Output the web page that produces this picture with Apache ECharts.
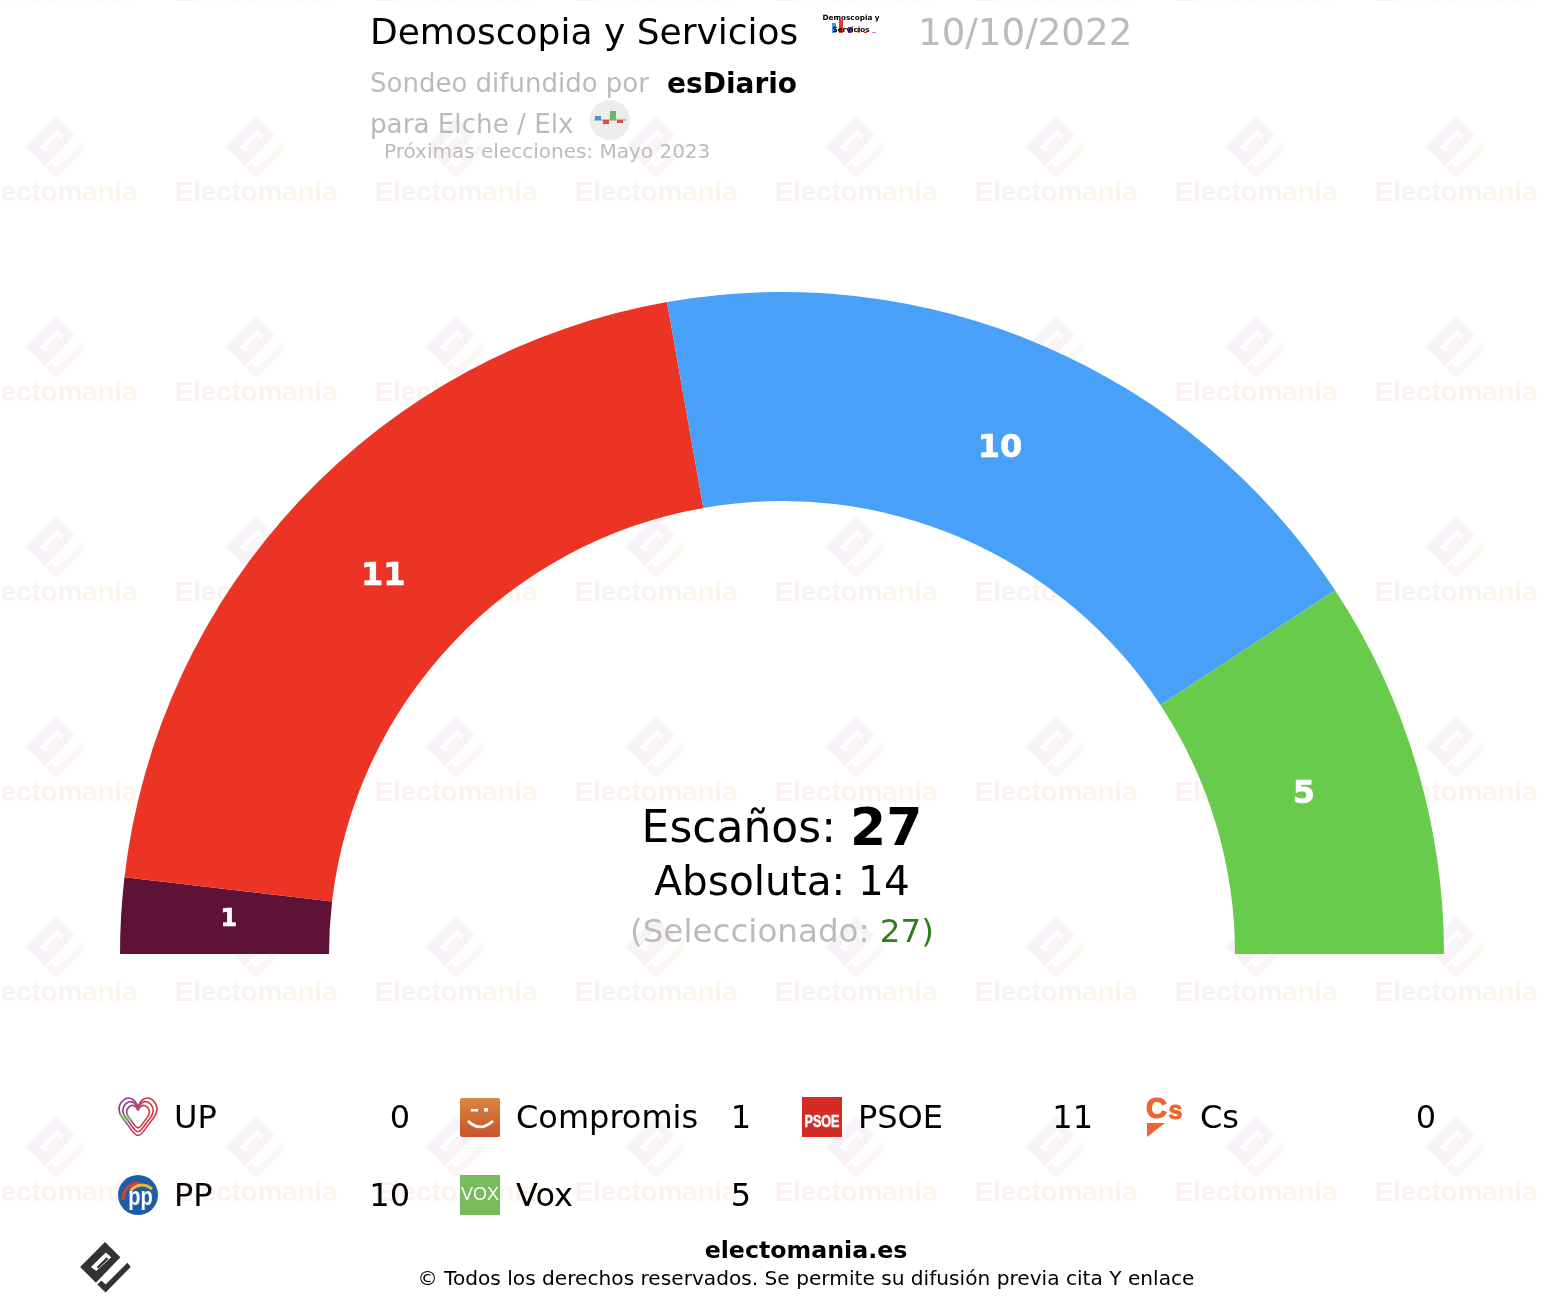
<!DOCTYPE html>
<html>
<head>
<meta charset="utf-8">
<title>Demoscopia y Servicios</title>
<script src="https://cdn.jsdelivr.net/npm/echarts@6/dist/echarts.min.js"></script>
<style>html,body{margin:0;padding:0;background:#fff}#chart{width:1558px;height:1306px}</style>
</head>
<body>
<div id="chart"></div>
<script>
// ---- data ----
const parties = ['UP', 'Compromis', 'PSOE', 'Cs', 'PP', 'Vox'];
const seats = [0, 1, 11, 0, 10, 5];
const partyColors = ['#7b3f98', '#5d1236', '#ec3425', '#ee6430', '#48a0f9', '#68cb4c'];
const totalSeats = 27;
const majority = 14;
const selected = 27;
const pollster = 'Demoscopia y Servicios';
const pollDate = '10/10/2022';
const media = 'esDiario';
const place = 'para Elche / Elx';
const nextElection = 'Próximas elecciones: Mayo 2023';

// ---- layout ----
const FONT = '"DejaVu Sans", Verdana, sans-serif';
const legendNameX = [174, 516, 858, 1200];
const legendValueX = [410, 751, 1093, 1436];
const legendY = [1120, 1198];
const labelOffsets = [[0,0],[6.5,-2],[9,7],[0,0],[-4,9],[-15,1]];
const labelSizes = [24,24,32,24,32,32];

const g = [];
function txt(text, x, y, font, fill, align, z, extra) {
  g.push({type:'text', z:z==null?5:z, silent:true,
    style:Object.assign({text, x, y, font, fill, textAlign:align||'left', textVerticalAlign:'middle'}, extra||{})});
}
function poly(points, fill, z) { g.push({type:'polygon', z:z==null?5:z, silent:true, shape:{points}, style:{fill}}); }
function lin(a,b,x,y,x2,y2){return {type:'linear',x:x==null?0:x,y:y==null?0:y,x2:x2==null?1:x2,y2:y2==null?1:y2,colorStops:[{offset:0,color:a},{offset:1,color:b}]};}

// logo mark (Electomanía) anchored at the diamond's top corner
function mark(ox, oy, s, fillA, fillB, bg, z) {
  const P = pts => pts.map(p => [ox + p[0]*s, oy + p[1]*s]);
  poly(P([[0,0],[-30,30],[-11,49],[18.5,18.5]]), fillA, z);
  poly(P([[1,12.5],[7.5,18.5],[-10.5,35],[-17,30]]), bg, z);
  poly(P([[-10,30],[2,18.5],[4,20.5],[-8,32]]), fillA, z);
  poly(P([[27,25],[31,30],[0.7,60.7],[-9.3,51.3],[-4.3,46.3],[0.7,51.3]]), fillB, z);
}

// watermark word, coloured letter by letter from pink to cream
const wmWord = 'Electomanía';
const wmFont = 'bold 27.6px "Liberation Sans", Arial, sans-serif';
const wmColors = ['#f9f0f1','#f9f0f1','#f9f1f0','#faf1f0','#faf2ef','#fbf2ef','#fbf3ee','#fcf4ed','#fcf5ec','#fcf5ec','#fdf6eb'];
const wmRich = {};
wmColors.forEach((c,i)=>{ wmRich['c'+i] = {font:wmFont, fill:c}; });
const wmText = wmWord.split('').map((ch,i)=>'{c'+i+'|'+ch+'}').join('');

for (let j = 0; j < 7; j++) {
  for (let i = 0; i < 8; i++) {
    const cx = 56 + i*200, ty = 117 + (j-1)*200;
    if (ty > -80) mark(cx, ty, 1, lin('#f5f2fb','#faf3f4',0,0,1,1), lin('#faf3f3','#fbf7f1',0,1,1,0), '#fff', 0);
    txt(wmText, cx, ty + 76, wmFont, '#f9f0ef', 'center', 0, {rich:wmRich});
  }
}

// header
txt(pollster, 370, 35, '36px '+FONT, '#000');
txt(pollDate, 918, 35, '37.2px '+FONT, '#bbb');
txt('Sondeo difundido por', 370, 85, '26px '+FONT, '#bbb');
txt(media, 667, 86, 'bold 28px '+FONT, '#000');
txt(place, 370, 126, '26.2px '+FONT, '#bbb');
txt(nextElection, 384, 153, '20px '+FONT, '#bbb');

// pollster mini logo
[['#4a9bf0',832,23,4,10],['#e33a2c',839,20,4,13],['#7a2bb8',848,27,4,6],['#f39a2c',857,28,3,5],['#c0262c',864,32,3,1],['#d27ad2',872,32,4,1]]
  .forEach(b => g.push({type:'rect',z:5,silent:true,shape:{x:b[1],y:b[2],width:b[3],height:b[4]},style:{fill:b[0]}}));
txt('Demoscopia y', 851, 18.5, 'bold 7.3px '+FONT, '#000', 'center');
txt('Servicios', 851, 30, 'bold 7.3px '+FONT, '#000', 'center');

// place mini logo
g.push({type:'circle',z:5,silent:true,shape:{cx:610,cy:120,r:20},style:{fill:'#ececec'}});
g.push({type:'line',z:5,silent:true,shape:{x1:594,y1:120,x2:626,y2:120},style:{stroke:'#888',lineWidth:1}});
[['#4f93d2',595,116,6,4],['#d9503f',603,120,6,4],['#6fb56a',610,111,6,9],['#d9503f',617,120,6,3]]
  .forEach(b => g.push({type:'rect',z:5,silent:true,shape:{x:b[1],y:b[2],width:b[3],height:b[4]},style:{fill:b[0]}}));

// centre text
txt('{a|Escaños: }{b|'+totalSeats+'}', 782, 831, '44px '+FONT, '#000', 'center', 5, {rich:{
  a:{font:'44px '+FONT, fill:'#000'}, b:{font:'bold 52px '+FONT, fill:'#000'}}});
txt('Absoluta: '+majority, 782, 884, '40.6px '+FONT, '#000', 'center');
txt('{a|(Seleccionado: }{b|'+selected+'}{c|)}', 782, 934, '32.6px '+FONT, '#bbb', 'center', 5, {rich:{
  a:{font:'32.6px '+FONT, fill:'#bbb'}, b:{font:'32.6px '+FONT, fill:'#2e7d1e'}, c:{font:'32.6px '+FONT, fill:'#2e7d1e'}}});

// legend
parties.forEach((p, i) => {
  const row = i < 4 ? 0 : 1, col = i < 4 ? i : i-4;
  txt(p, legendNameX[col], legendY[row], '32px '+FONT, '#000');
  txt(String(seats[i]), legendValueX[col], legendY[row], '32px '+FONT, '#000', 'right');
});

// UP heart
const heart = [[0,-0.5],[0.25,-0.85],[0.6,-0.9],[0.92,-0.55],[0.9,-0.15],[0.6,0.3],[0,0.95],[-0.6,0.3],[-0.9,-0.15],[-0.92,-0.55],[-0.6,-0.9],[-0.25,-0.85],[0,-0.5]];
[20,16,12].forEach(r => {
  const pts = heart.map(p => [138 + p[0]*r, 1116.5 + p[1]*r]);
  g.push({type:'polyline',z:5,silent:true,shape:{points:pts,smooth:0.35},style:{fill:'none',lineWidth:1.6,stroke:lin('#7b3f98','#e5343a',0,0,1,0.3)}});
  g.push({type:'polyline',z:5,silent:true,shape:{points:pts.slice(7,9),smooth:0},style:{fill:'none',lineWidth:1.6,stroke:'#7ab648'}});
});
// Compromis
g.push({type:'rect',z:5,silent:true,shape:{x:460,y:1098,width:40,height:39,r:2},style:{fill:lin('#dc873f','#c5522f',0,0,0,1)}});
g.push({type:'bezierCurve',z:5,silent:true,shape:{x1:468,y1:1121,cpx1:476,cpy1:1129,cpx2:484,cpy2:1129,x2:493,y2:1121},style:{stroke:'#fff',fill:'none',lineWidth:2.6}});
g.push({type:'rect',z:5,silent:true,shape:{x:471,y:1109,width:7,height:2.5},style:{fill:'#fff'}});
g.push({type:'rect',z:5,silent:true,shape:{x:484,y:1108,width:4,height:3.5},style:{fill:'#fff'}});
// PSOE
g.push({type:'rect',z:5,silent:true,shape:{x:802,y:1097,width:40,height:40},style:{fill:'#d42b24'}});
g.push({type:'text',z:5,silent:true,x:822,y:1122.5,scaleY:1.35,style:{text:'PSOE',x:0,y:0,font:'bold 12.6px "Liberation Sans", Arial, sans-serif',fill:'#fff',stroke:'#fff',lineWidth:0.4,textAlign:'center',textVerticalAlign:'middle'}});
// Cs
txt('C', 1146, 1109.5, 'bold 29px "Liberation Sans", Arial, sans-serif', '#ee6430', 'left', 5, {stroke:'#ee6430',lineWidth:1.2});
txt('s', 1168.5, 1112, 'bold 25px "Liberation Sans", Arial, sans-serif', '#ee6430', 'left', 5, {stroke:'#ee6430',lineWidth:1});
poly([[1147,1123],[1165,1123],[1147,1137]], '#ee6430');
// PP
g.push({type:'circle',z:5,silent:true,shape:{cx:138,cy:1195,r:20},style:{fill:'#1f5ca8'}});
g.push({type:'arc',z:5,silent:true,shape:{cx:139,cy:1199,r:16,startAngle:Math.PI*0.98,endAngle:Math.PI*1.5,clockwise:true},style:{stroke:'#d8402c',fill:'none',lineWidth:3}});
g.push({type:'arc',z:5,silent:true,shape:{cx:142,cy:1199,r:14,startAngle:Math.PI*1.2,endAngle:Math.PI*1.75,clockwise:true},style:{stroke:'#f5b52c',fill:'none',lineWidth:3}});
g.push({type:'text',z:5,silent:true,x:140.5,y:1198,scaleY:1.25,style:{text:'pp',x:0,y:0,font:'bold 20px "Liberation Sans", Arial, sans-serif',fill:'#fff',textAlign:'center',textVerticalAlign:'middle'}});
// Vox
g.push({type:'rect',z:5,silent:true,shape:{x:460,y:1175,width:40,height:40},style:{fill:'#77bb5a'}});
txt('VOX', 480, 1195, '18px "Liberation Sans", Arial, sans-serif', '#fff', 'center');

// footer
txt('electomania.es', 806, 1252, 'bold 23.7px '+FONT, '#000', 'center');
txt('© Todos los derechos reservados. Se permite su difusión previa cita Y enlace', 806, 1280, '20.15px '+FONT, '#000', 'center');
mark(105, 1242, 0.83, '#333', '#333', '#fff', 5);

const chart = echarts.init(document.getElementById('chart'), null, {renderer:'canvas'});
chart.setOption({
  animation:false,
  backgroundColor:'#fff',
  graphic:{elements:g},
  series:[{
    type:'pie',
    center:[782,954],
    radius:[453,662],
    startAngle:180,
    endAngle:0,
    clockwise:true,
    avoidLabelOverlap:false,
    silent:true,
    itemStyle:{borderWidth:0},
    labelLine:{show:false},
    data:parties.map((p,i)=>({
      name:p, value:seats[i],
      itemStyle:{color:partyColors[i]},
      label:{show:seats[i]>0, position:'inside', formatter:'{c}', color:'#fff', fontFamily:FONT, fontWeight:'bold',
             fontSize:labelSizes[i], offset:labelOffsets[i], textBorderColor:'#fff', textBorderWidth:0.6}
    }))
  }]
});
</script>
</body>
</html>
